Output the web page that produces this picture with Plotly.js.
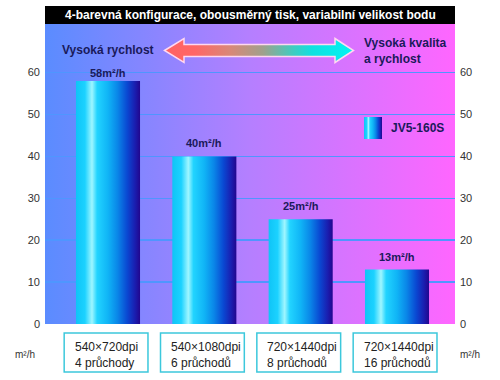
<!DOCTYPE html>
<html>
<head>
<meta charset="utf-8">
<script src="https://cdn.plot.ly/plotly-3.0.1.min.js"></script>
<style>html,body{margin:0;padding:0;background:#fff;}#chart{width:500px;height:380px;}</style>
</head>
<body>
<div id="chart"></div>
<script>
// ---- data ----
const categories = ["540×720dpi<br>4 průchody", "540×1080dpi<br>6 průchodů", "720×1440dpi<br>8 průchodů", "720×1440dpi<br>16 průchodů"];
const speeds = [58, 40, 25, 13];
const valueLabels = ["58m²/h", "40m²/h", "25m²/h", "13m²/h"];
const tickValues = [0, 10, 20, 30, 40, 50, 60];
const seriesName = "JV5-160S";
const titleText = "4-barevná konfigurace, obousměrný tisk, variabilní velikost bodu";
const leftHeader = "Vysoká rychlost";
const rightHeader = "Vysoká kvalita<br>a rychlost";
const unitLabel = "m²/h";

// ---- styles ----
const FONT = "Liberation Sans, Arial, Helvetica, sans-serif";
const NAVY = "#1a1a5a";
const barScale = [
  [0, "#0fc4f6"], [0.14, "#1cd2ff"], [0.25, "#9ff6ff"], [0.33, "#22d4ff"],
  [0.5, "#10b4f6"], [0.65, "#0a86e8"], [0.8, "#0a48d2"], [0.92, "#1a1eb0"], [1, "#22068e"]
];
const barW = 0.665;

function gradSvg(w, h, stops, body) {
  const s = stops.map(p => `<stop offset='${p[0]}' stop-color='${p[1]}'/>`).join("");
  const svg = `<svg xmlns='http://www.w3.org/2000/svg' width='${w}' height='${h}' viewBox='0 0 ${w} ${h}' preserveAspectRatio='none'><defs><linearGradient id='g' x1='0' x2='1' y1='0' y2='0'>${s}</linearGradient></defs>${body}</svg>`;
  return "data:image/svg+xml;charset=utf-8," + encodeURIComponent(svg);
}

const traces = [];
speeds.forEach((v, i) => {
  traces.push({
    type: "scatter", mode: "lines",
    x: [i - barW / 2, i + barW / 2, i + barW / 2, i - barW / 2, i - barW / 2],
    y: [0, 0, v, v, 0],
    fill: "toself",
    fillgradient: { type: "horizontal", colorscale: barScale },
    line: { width: 0 },
    name: seriesName, showlegend: false, hoverinfo: "skip"
  });
});
// invisible trace for right axis
traces.push({
  type: "scatter", mode: "markers", x: speeds.map((_, i) => i), y: speeds,
  yaxis: "y2", marker: { opacity: 0 }, showlegend: false, hoverinfo: "skip"
});

const annotations = [];
annotations.push({ xref: "paper", yref: "paper", x: 0.5, y: 1.03, text: "<b>" + titleText + "</b>",
  showarrow: false, font: { family: FONT, size: 12, color: "#fff" }, xanchor: "center", yanchor: "middle" });
annotations.push({ xref: "paper", yref: "paper", x: (60 - 45) / 410, y: (324 - 50) / 300, text: "<b>" + leftHeader + "</b>",
  showarrow: false, font: { family: FONT, size: 12, color: NAVY }, xanchor: "left", yanchor: "middle" });
annotations.push({ xref: "paper", yref: "paper", x: (362 - 45) / 410, y: (324 - 51) / 300, text: "<b>" + rightHeader + "</b>",
  showarrow: false, font: { family: FONT, size: 12, color: NAVY }, xanchor: "left", yanchor: "middle", align: "left" });
annotations.push({ xref: "paper", yref: "paper", x: (389 - 45) / 410, y: (324 - 128) / 300, text: "<b>" + seriesName + "</b>",
  showarrow: false, font: { family: FONT, size: 12, color: NAVY }, xanchor: "left", yanchor: "middle" });
speeds.forEach((v, i) => {
  annotations.push({ x: i, y: v, xref: "x", yref: "y", text: "<b>" + valueLabels[i] + "</b>", showarrow: false,
    font: { family: FONT, size: 11, color: NAVY }, xanchor: "center", yanchor: "bottom", yshift: i === 0 ? 0 : 5 });
  annotations.push({ x: i - 0.45, y: -0.102, xref: "x", yref: "paper", text: categories[i], showarrow: false,
    font: { family: FONT, size: 12, color: "#222" }, xanchor: "left", yanchor: "middle", align: "left", xshift: 8 });
});
annotations.push({ xref: "paper", yref: "paper", x: (25 - 45) / 410, y: -0.102, text: unitLabel, showarrow: false,
  font: { family: FONT, size: 10, color: "#333" }, xanchor: "center", yanchor: "middle" });
annotations.push({ xref: "paper", yref: "paper", x: (470 - 45) / 410, y: -0.102, text: unitLabel, showarrow: false,
  font: { family: FONT, size: 10, color: "#333" }, xanchor: "center", yanchor: "middle" });

const shapes = [];
shapes.push({ type: "rect", xref: "paper", yref: "paper", x0: 0, x1: 1, y0: 1, y1: 1.06, fillcolor: "#000", line: { width: 0 } });
speeds.forEach((v, i) => {
  shapes.push({ type: "rect", xref: "x", yref: "paper", x0: i - 0.455, x1: i + 0.415, y0: -0.03, y1: -0.16,
    fillcolor: "#fff", line: { color: "#3cc8dc", width: 1.5 } });
});

const bgSrc = gradSvg(410, 300, [[0, "#5a8cff"], [0.5, "#b57fff"], [1, "#ff66ff"]], "<rect width='410' height='300' fill='url(#g)'/>");
const arrowSrc = gradSvg(192, 27, [[0, "#ff6262"], [0.16, "#ff6666"], [0.35, "#d88878"], [0.52, "#a0a08c"], [0.68, "#40ccc0"], [0.78, "#10e0e0"], [1, "#00f4f4"]],
  "<path d='M1.5,13.5 L21,1.5 L21,7.5 L172,7.5 L172,1.5 L190.5,13.5 L172,25.5 L172,19.5 L21,19.5 L21,25.5 Z' fill='url(#g)' stroke='#ffd8f0' stroke-width='1.5'/>");
const swatchSrc = gradSvg(18, 22, barScale.map(s => [s[0], s[1]]), "<rect width='18' height='22' fill='url(#g)'/>");

const images = [
  { source: bgSrc, xref: "paper", yref: "paper", x: 0, y: 1, sizex: 1, sizey: 1, sizing: "stretch", layer: "below", xanchor: "left", yanchor: "top" },
  { source: arrowSrc, xref: "paper", yref: "paper", x: (163 - 45) / 410, y: (324 - 37) / 300, sizex: 192 / 410, sizey: 27 / 300, sizing: "stretch", layer: "above", xanchor: "left", yanchor: "top" },
  { source: swatchSrc, xref: "paper", yref: "paper", x: (364 - 45) / 410, y: (324 - 117) / 300, sizex: 18 / 410, sizey: 22 / 300, sizing: "stretch", layer: "above", xanchor: "left", yanchor: "top" }
];

const yRange = [0, 71.6];
const layout = {
  width: 500, height: 380,
  margin: { l: 45, r: 45, t: 24, b: 56 },
  paper_bgcolor: "#fff", plot_bgcolor: "rgba(0,0,0,0)",
  showlegend: false,
  font: { family: FONT, size: 11, color: "#333" },
  xaxis: { range: [-0.654, 3.602], showgrid: false, zeroline: false, showticklabels: false, ticks: "", fixedrange: true },
  yaxis: { range: yRange, tickvals: tickValues, showgrid: true, gridcolor: "#4f96ff", gridwidth: 1.5, zeroline: false,
    ticks: "", tickfont: { family: FONT, size: 11, color: "#333" }, ticklabelstandoff: 4 },
  yaxis2: { range: yRange, tickvals: tickValues, overlaying: "y", side: "right", showgrid: false, zeroline: false,
    ticks: "", tickfont: { family: FONT, size: 11, color: "#333" }, ticklabelstandoff: 4 },
  shapes: shapes, annotations: annotations, images: images
};

Plotly.newPlot("chart", traces, layout, { staticPlot: true, displayModeBar: false });
</script>
</body>
</html>
